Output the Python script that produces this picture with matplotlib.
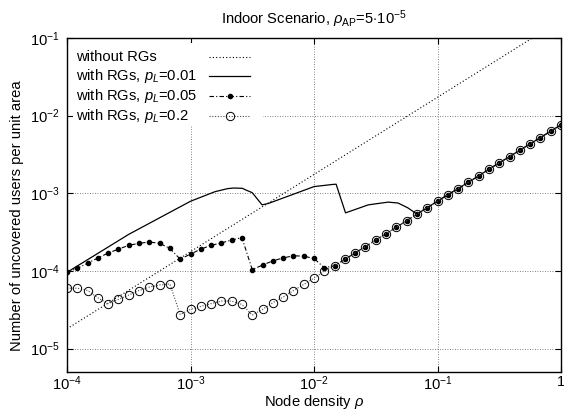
import matplotlib
matplotlib.use('Agg')
import matplotlib.pyplot as plt
from matplotlib.patches import Rectangle
from matplotlib.ticker import NullLocator

FS = 10.6
plt.rcParams['font.family'] = ['Liberation Sans', 'DejaVu Sans']
plt.rcParams['font.size'] = FS
plt.rcParams['mathtext.fontset'] = 'custom'
plt.rcParams['mathtext.rm'] = 'Liberation Sans'
plt.rcParams['mathtext.it'] = 'Liberation Sans:italic'
plt.rcParams['mathtext.sf'] = 'Liberation Sans'

# ---------------------------------------------------------------------------
# data
# ---------------------------------------------------------------------------
# node density grid, 12 samples per decade
rho = [1.00e-4, 1.21e-4, 1.47e-4, 1.78e-4, 2.15e-4, 2.61e-4, 3.16e-4, 3.83e-4, 4.64e-4, 5.62e-4, 6.81e-4, 8.25e-4,
       1.00e-3, 1.21e-3, 1.47e-3, 1.78e-3, 2.15e-3, 2.61e-3, 3.16e-3, 3.83e-3, 4.64e-3, 5.62e-3, 6.81e-3, 8.25e-3,
       1.00e-2, 1.21e-2, 1.47e-2, 1.78e-2, 2.15e-2, 2.61e-2, 3.16e-2, 3.83e-2, 4.64e-2, 5.62e-2, 6.81e-2, 8.25e-2,
       1.00e-1, 1.21e-1, 1.47e-1, 1.78e-1, 2.15e-1, 2.61e-1, 3.16e-1, 3.83e-1, 4.64e-1, 5.62e-1, 6.81e-1, 8.25e-1,
       1.0]

# without RGs (straight line in log-log)
rho_norg = [1e-4, 1.0]
u_norg = [1.8e-5, 0.17]

# with RGs, p_L = 0.01 (continuous curve)
rho_p001 = [1.00e-4, 3.16e-4, 1.00e-3, 1.58e-3, 2.00e-3, 2.24e-3, 2.63e-3, 2.82e-3, 3.16e-3, 3.80e-3,
            4.27e-3, 6.30e-3, 1.00e-2, 1.41e-2, 1.51e-2, 1.80e-2, 2.75e-2, 3.98e-2, 4.79e-2, 5.75e-2,
            6.81e-2, 8.25e-2, 1.00e-1, 1.21e-1, 1.47e-1, 1.78e-1, 2.15e-1, 2.61e-1, 3.16e-1, 3.83e-1,
            4.64e-1, 5.62e-1, 6.81e-1, 8.25e-1, 1.0]
u_p001 = [9.6e-5, 2.96e-4, 7.9e-4, 1.05e-3, 1.15e-3, 1.17e-3, 1.16e-3, 1.10e-3, 1.02e-3, 7.1e-4,
          7.4e-4, 9.3e-4, 1.22e-3, 1.30e-3, 1.31e-3, 5.6e-4, 7.1e-4, 7.7e-4, 7.5e-4, 6.5e-4,
          5.40e-4, 6.52e-4, 7.92e-4, 9.57e-4, 1.15e-3, 1.39e-3, 1.67e-3, 2.05e-3, 2.46e-3, 2.97e-3,
          3.58e-3, 4.33e-3, 5.22e-3, 6.31e-3, 7.62e-3]

# with RGs, p_L = 0.05
u_p005 = [9.6e-5, 1.08e-4, 1.26e-4, 1.47e-4, 1.70e-4, 1.91e-4, 2.14e-4, 2.27e-4, 2.36e-4, 2.27e-4, 1.95e-4, 1.42e-4,
          1.65e-4, 1.91e-4, 2.14e-4, 2.30e-4, 2.50e-4, 2.69e-4, 1.04e-4, 1.19e-4, 1.35e-4, 1.47e-4, 1.57e-4, 1.55e-4,
          1.45e-4, 1.10e-4, 1.17e-4, 1.41e-4, 1.71e-4, 2.06e-4, 2.51e-4, 3.02e-4, 3.65e-4, 4.44e-4, 5.40e-4, 6.52e-4,
          7.92e-4, 9.57e-4, 1.15e-3, 1.39e-3, 1.67e-3, 2.05e-3, 2.46e-3, 2.97e-3, 3.58e-3, 4.33e-3, 5.22e-3, 6.31e-3,
          7.62e-3]

# with RGs, p_L = 0.2
u_p02 = [6.0e-5, 6.0e-5, 5.6e-5, 4.5e-5, 3.8e-5, 4.3e-5, 4.9e-5, 5.6e-5, 6.2e-5, 6.6e-5, 6.8e-5, 2.75e-5,
         3.2e-5, 3.5e-5, 3.8e-5, 4.1e-5, 4.1e-5, 3.7e-5, 2.7e-5, 3.2e-5, 3.9e-5, 4.6e-5, 5.6e-5, 6.7e-5,
         8.1e-5, 9.9e-5, 1.17e-4, 1.41e-4, 1.71e-4, 2.06e-4, 2.51e-4, 3.02e-4, 3.65e-4, 4.44e-4, 5.40e-4, 6.52e-4,
         7.92e-4, 9.57e-4, 1.15e-3, 1.39e-3, 1.67e-3, 2.05e-3, 2.46e-3, 2.97e-3, 3.58e-3, 4.33e-3, 5.22e-3, 6.31e-3,
         7.62e-3]

xticks = [1e-4, 1e-3, 1e-2, 1e-1, 1.0]
xtick_labels = ['$10^{-4}$', '$10^{-3}$', '$10^{-2}$', '$10^{-1}$', '1']
yticks = [1e-5, 1e-4, 1e-3, 1e-2, 1e-1]
ytick_labels = ['$10^{-5}$', '$10^{-4}$', '$10^{-3}$', '$10^{-2}$', '$10^{-1}$']

legend_labels = ['without RGs',
                 'with RGs, $p_L$=0.01',
                 'with RGs, $p_L$=0.05',
                 'with RGs, $p_L$=0.2']

# ---------------------------------------------------------------------------
# styles
# ---------------------------------------------------------------------------
st_norg = dict(ls=(0, (1, 2)), color='black', lw=0.8)
st_p001 = dict(ls='-', color='black', lw=0.9)
st_p005 = dict(ls=(0, (4, 2, 1, 2)), color='black', lw=0.8, marker='o', ms=3.0,
               mfc='black', mec='black')
st_p02 = dict(ls=(0, (1, 1.5)), color='0.3', lw=0.8, marker='o', ms=6,
              mfc='none', mec='black', mew=0.7)

W, H = 564, 411
fig = plt.figure(figsize=(W / 100, H / 100), dpi=100, facecolor='white')
ax = fig.add_axes([67 / W, 1 - 372 / H, 494 / W, 334 / H])

ax.plot(rho_norg, u_norg, **st_norg)
ax.plot(rho_p001, u_p001, **st_p001)
ax.plot(rho, u_p005, **st_p005)
ax.plot(rho, u_p02, **st_p02)

ax.set_xscale('log')
ax.set_yscale('log')
ax.set_xlim(1e-4, 1.0)
ax.set_ylim(5e-6, 1e-1)
ax.set_xticks(xticks)
ax.set_xticklabels(xtick_labels)
ax.set_yticks(yticks)
ax.set_yticklabels(ytick_labels)
ax.xaxis.set_minor_locator(NullLocator())
ax.yaxis.set_minor_locator(NullLocator())
ax.tick_params(direction='in', top=True, right=True, length=4, width=0.8,
               labelsize=FS, pad=5)
ax.tick_params(axis='x', pad=2)

ax.set_axisbelow(True)
ax.grid(True, which='major', ls=(0, (1, 2)), color='0.35', lw=0.6)
for sp in ax.spines.values():
    sp.set_linewidth(1.0)

# legend (gnuplot style: text left, sample right, opaque area)
ax.add_patch(Rectangle((0.012, 0.74), 0.385, 0.245, transform=ax.transAxes,
                       facecolor='white', edgecolor='none', zorder=1.5))
rows_y = [0.943, 0.885, 0.826, 0.767]
styles = [st_norg, st_p001, st_p005, st_p02]
for lab, yy, st in zip(legend_labels, rows_y, styles):
    ax.text(0.018, yy, lab, transform=ax.transAxes, ha='left', va='center',
            fontsize=FS, zorder=3)
    line_st = {k: v for k, v in st.items() if k not in ('marker', 'ms', 'mfc', 'mec', 'mew')}
    ax.plot([0.287, 0.370], [yy, yy], transform=ax.transAxes, zorder=3, **line_st)
    if 'marker' in st:
        ax.plot([0.329], [yy], transform=ax.transAxes, zorder=3.5, ls='none',
                marker=st['marker'], ms=st['ms'], mfc=st['mfc'], mec=st['mec'],
                mew=st.get('mew', 1.0))

fig.text(314 / W, 1 - 19 / H, r'Indoor Scenario, $\rho_{\mathrm{AP}}$=5$\cdot$10$^{-5}$',
         ha='center', va='center', fontsize=FS)
fig.text(314 / W, 1 - 402 / H, r'Node density $\rho$', ha='center', va='center', fontsize=FS)
fig.text(17 / W, 1 - 216 / H, 'Number of uncovered users per unit area',
         rotation=90, ha='center', va='center', fontsize=FS)

fig.savefig('out.png', dpi=100, facecolor='white')
plt.close(fig)
